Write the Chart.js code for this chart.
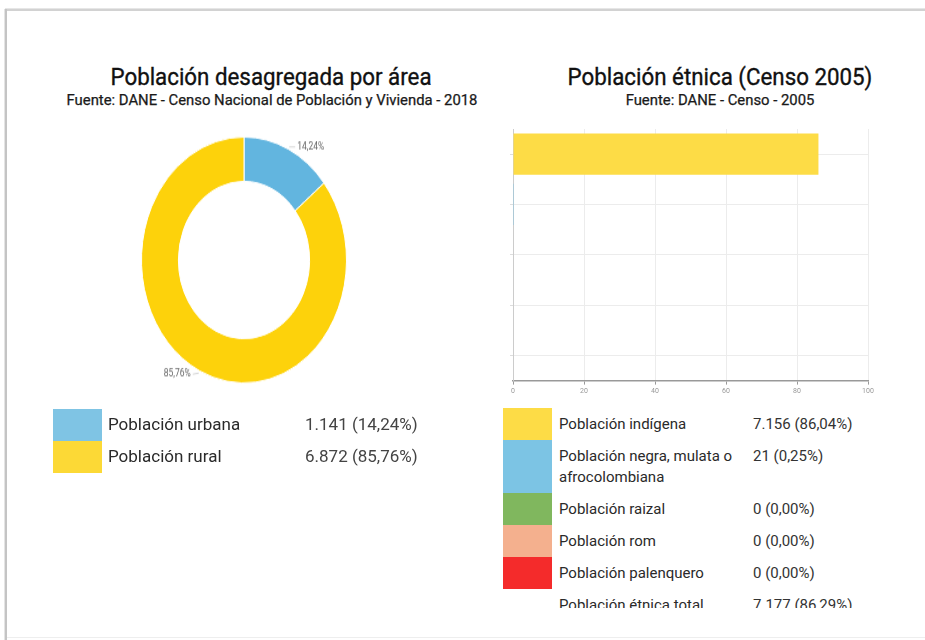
<!DOCTYPE html>
<html><head><meta charset="utf-8">
<script src="https://cdn.jsdelivr.net/npm/chart.js@4.4.0/dist/chart.umd.min.js"></script>
<style>
html,body{margin:0;padding:0;background:#fff;width:925px;height:640px;overflow:hidden;font-family:Roboto,"Noto Sans",sans-serif;}
#ftop{position:absolute;left:5px;top:8px;width:920px;height:1px;background:#e6e6e6;}
#ftop2{position:absolute;left:5px;top:9px;width:920px;height:2px;background:#d2d2d2;}
#fleft{position:absolute;left:5px;top:9px;width:2px;height:631px;background:#c4c4c4;}
#fleft2{position:absolute;left:4px;top:9px;width:1px;height:631px;background:#e4e4e4;}
#fbot{position:absolute;left:7px;top:637px;width:918px;height:1px;background:#eee;}
.title{position:absolute;white-space:nowrap;color:#111;font-size:24px;line-height:26px;transform:translateX(-50%) scaleX(0.93);transform-origin:center;-webkit-text-stroke:0.35px #111;}
.sub{position:absolute;white-space:nowrap;color:#1a1a1a;font-size:14px;line-height:15px;transform:translateX(-50%) scaleX(1.06);transform-origin:center;-webkit-text-stroke:0.25px #1a1a1a;}
#dwrap{position:absolute;left:114px;top:104px;width:260px;height:260px;transform:scaleY(1.2);transform-origin:0 0;}
#bwrap{position:absolute;left:495px;top:118px;width:385px;height:285px;}
.sw{position:absolute;}
.txt{position:absolute;white-space:nowrap;color:#2a2a2a;}
#rleg{position:absolute;left:503px;top:408px;width:400px;height:200px;overflow:hidden;}
.rrow{display:flex;align-items:stretch;}
.rsw{width:49px;flex:none;}
.rlab{width:182px;margin-left:7px;padding:6px 0 5px 0;font-size:15px;line-height:21px;color:#2a2a2a;flex:none;}
.rval{margin-left:12px;padding:6px 0 5px 0;font-size:15px;line-height:21px;color:#333;white-space:nowrap;}
</style>
</head><body>
<div id="ftop"></div><div id="ftop2"></div><div id="fleft2"></div><div id="fleft"></div><div id="fbot"></div>
<div class="title" style="left:271px;top:64px;">Población desagregada por área</div>
<div class="sub" style="left:272px;top:93px;">Fuente: DANE - Censo Nacional de Población y Vivienda - 2018</div>
<div class="title" style="left:720px;top:64px;">Población étnica (Censo 2005)</div>
<div class="sub" style="left:720px;top:93px;">Fuente: DANE - Censo - 2005</div>
<div id="dwrap"><canvas id="dough"></canvas></div>
<div id="bwrap"><canvas id="bars"></canvas></div>
<div id="lleg"></div>
<div id="rleg"></div>
<script>
// ---- data ----
const areaLabels = ['Población urbana', 'Población rural'];
const areaCounts = ['1.141', '6.872'];
const areaPercent = [14.24, 85.76];
const areaColors = ['#62b5df', '#fdd20b'];
const areaLegendColors = ['#7fc4e4', '#fcd936'];

const ethnicLabels = ['Población indígena', 'Población negra, mulata o afrocolombiana', 'Población raizal', 'Población rom', 'Población palenquero'];
const ethnicCounts = ['7.156', '21', '0', '0', '0'];
const ethnicPercent = [86.04, 0.25, 0, 0, 0];
const ethnicColors = ['#fddc46', '#7cc4e4', '#80b75e', '#f4b08e', '#f42b2b'];
const ethnicTotalLabel = 'Población étnica total';
const ethnicTotalCount = '7.177';
const ethnicTotalPercent = 86.29;
const xTicks = [0, 20, 40, 60, 80, 100];

const fmt = v => v.toFixed(2).replace('.', ',') + '%';

// ---- doughnut ----
const labelPlugin = {
  id: 'outLabels',
  afterDatasetsDraw(chart) {
    const ctx = chart.ctx;
    const meta = chart.getDatasetMeta(0);
    ctx.save();
    ctx.font = '8.5px Roboto, sans-serif';
    ctx.fillStyle = '#666';
    ctx.strokeStyle = '#bbb';
    ctx.lineWidth = 0.6;
    meta.data.forEach((arc, i) => {
      const p = arc.getProps(['x', 'y', 'startAngle', 'endAngle', 'outerRadius'], true);
      const mid = (p.startAngle + p.endAngle) / 2;
      const r = p.outerRadius + 2;
      const x0 = p.x + Math.cos(mid) * r, y0 = p.y + Math.sin(mid) * r;
      const right = Math.cos(mid) >= 0;
      const x1 = x0 + (right ? 6 : -6);
      ctx.beginPath(); ctx.moveTo(x0, y0); ctx.lineTo(x1, y0 + (right ? 0 : 1)); ctx.stroke();
      ctx.textAlign = right ? 'left' : 'right';
      ctx.textBaseline = 'middle';
      ctx.fillText(fmt(areaPercent[i]), x1 + (right ? 2 : -2), y0 + (right ? 0 : 1));
    });
    ctx.restore();
  }
};

new Chart(document.getElementById('dough'), {
  type: 'doughnut',
  data: { labels: areaLabels, datasets: [{ data: areaPercent, backgroundColor: areaColors, borderColor: '#fff', borderWidth: 1 }] },
  options: {
    responsive: true, maintainAspectRatio: false, animation: false,
    cutout: '64%',
    layout: { padding: 27 },
    plugins: { legend: { display: false }, tooltip: { enabled: false } }
  },
  plugins: [labelPlugin]
});

// ---- bars ----
new Chart(document.getElementById('bars'), {
  type: 'bar',
  data: { labels: ethnicLabels, datasets: [{ data: ethnicPercent, backgroundColor: ethnicColors, borderWidth: 0, categoryPercentage: 0.82, barPercentage: 1 }] },
  options: {
    indexAxis: 'y', responsive: true, maintainAspectRatio: false, animation: false,
    layout: { padding: { left: 15, top: 11, right: 12, bottom: 6 } },
    plugins: { legend: { display: false }, tooltip: { enabled: false } },
    scales: {
      x: {
        min: 0, max: 100,
        afterBuildTicks: s => { s.ticks = xTicks.map(v => ({ value: v })); },
        grid: { color: '#ececec', tickColor: '#999', tickLength: 4 },
        border: { color: '#999', width: 1.5 },
        ticks: { font: { size: 7, family: 'Roboto' }, color: '#999', padding: 2 }
      },
      y: {
        grid: { offset: false, color: '#ececec', tickColor: '#ddd', tickLength: 3 },
        border: { color: '#ccc', width: 1 },
        ticks: { display: false }
      }
    }
  }
});

// ---- legends ----
const lleg = document.getElementById('lleg');
areaLabels.forEach((lab, i) => {
  const top = 409 + i * 32;
  lleg.insertAdjacentHTML('beforeend',
    `<div class="sw" style="left:53px;top:${top}px;width:49px;height:32px;background:${areaLegendColors[i]}"></div>` +
    `<div class="txt" style="left:108px;top:${top + 4}px;font-size:17px;line-height:22px;">${lab}</div>` +
    `<div class="txt" style="left:305px;top:${top + 4}px;font-size:17px;line-height:22px;color:#444">${areaCounts[i]} (${fmt(areaPercent[i])})</div>`);
});
const rleg = document.getElementById('rleg');
ethnicLabels.forEach((lab, i) => {
  rleg.insertAdjacentHTML('beforeend',
    `<div class="rrow"><div class="rsw" style="background:${ethnicColors[i]}"></div><div class="rlab">${lab}</div><div class="rval">${ethnicCounts[i]} (${fmt(ethnicPercent[i])})</div></div>`);
});
rleg.insertAdjacentHTML('beforeend',
  `<div class="rrow"><div class="rsw"></div><div class="rlab">${ethnicTotalLabel}</div><div class="rval">${ethnicTotalCount} (${fmt(ethnicTotalPercent)})</div></div>`);
</script>
</body></html>
